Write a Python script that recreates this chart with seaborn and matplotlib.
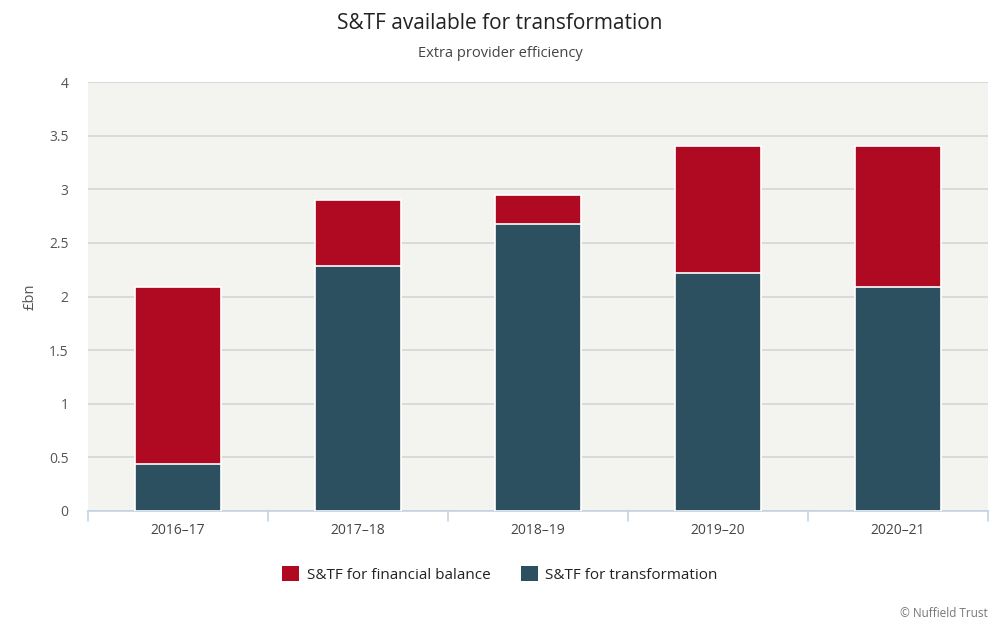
import numpy as np
import pandas as pd
import matplotlib
matplotlib.use("Agg")
import matplotlib.pyplot as plt
import seaborn as sns
from matplotlib.patches import Patch

# Werte
years = ["2016–17", "2017–18", "2018–19", "2019–20", "2020–21"]
transformation = [0.44, 2.28, 2.68, 2.22, 2.09]
financial_balance = [1.65, 0.62, 0.27, 1.18, 1.31]

red = "#b00a22"
teal = "#2c5060"

sns.set_theme(style="white")
plt.rcParams["font.family"] = ["Open Sans", "DejaVu Sans"]

df = pd.DataFrame({
    "year": years,
    "transformation": transformation,
    "total": np.array(transformation) + np.array(financial_balance),
})

fig = plt.figure(figsize=(10, 6.25), dpi=100)
ax = fig.add_axes([0.088, 0.1824, 0.9, 0.6864])
ax.set_facecolor("#f3f3ef")

sns.barplot(data=df, x="year", y="total", color=red, width=0.48,
            edgecolor="white", linewidth=1.2, saturation=1, ax=ax, zorder=3)
sns.barplot(data=df, x="year", y="transformation", color=teal, width=0.48,
            edgecolor="white", linewidth=1.2, saturation=1, ax=ax, zorder=4)

ax.set_xlim(-0.5, len(years) - 0.5)
ax.set_ylim(0, 4)
ax.set_yticks([0, 0.5, 1, 1.5, 2, 2.5, 3, 3.5, 4])
ax.set_yticklabels(["0", "0.5", "1", "1.5", "2", "2.5", "3", "3.5", "4"])
ax.yaxis.grid(True, color="#d6d6d6", linewidth=1.2, zorder=0)
ax.set_axisbelow(True)

for s in ["top", "right", "left"]:
    ax.spines[s].set_visible(False)
ax.spines["bottom"].set_color("#c3d3e3")
ax.spines["bottom"].set_linewidth(1.2)

ax.tick_params(axis="y", length=0, labelsize=10, labelcolor="#555555", pad=14)
ax.tick_params(axis="x", length=0, labelsize=10, labelcolor="#444444", pad=9)
# Trennstriche zwischen Kategorien
for b in np.arange(-0.5, len(years), 1.0):
    ax.plot([b, b], [0, -0.09], color="#c3d3e3", linewidth=1.2,
            clip_on=False, transform=ax.transData)

ax.set_xlabel("")
ax.set_ylabel("£bn", fontsize=10.5, color="#555555", labelpad=8)

fig.text(0.5, 0.963, "S&TF available for transformation", ha="center",
         va="center", fontsize=15, color="#222222")
fig.text(0.5, 0.914, "Extra provider efficiency", ha="center",
         va="center", fontsize=10.5, color="#444444")

handles = [Patch(facecolor=red, edgecolor="none", label="S&TF for financial balance"),
           Patch(facecolor=teal, edgecolor="none", label="S&TF for transformation")]
fig.legend(handles=handles, loc="center", bbox_to_anchor=(0.5, 0.081), ncol=2,
           frameon=False, fontsize=11, handlelength=1.1, handleheight=1.1,
           columnspacing=2.0, handletextpad=0.5, labelcolor="#222222")

fig.text(0.988, 0.019, "© Nuffield Trust", ha="right", va="center",
         fontsize=8.5, color="#777777")

fig.savefig("out.png", dpi=100)
